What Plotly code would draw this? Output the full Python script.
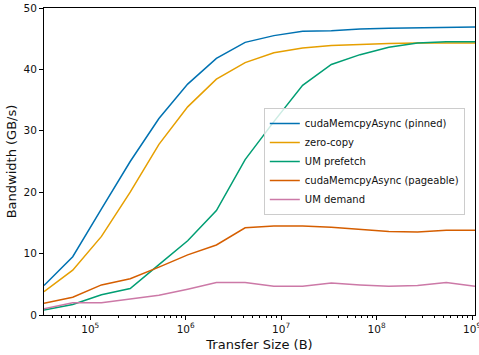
import numpy as np
import plotly.graph_objects as go

sizes = [2**k for k in range(15, 31)]
pinned = [4.8, 9.5, 17.3, 25.0, 32.0, 37.6, 41.8, 44.4, 45.5, 46.2, 46.3, 46.6, 46.7, 46.8, 46.9, 46.9]
zero_copy = [3.8, 7.3, 12.8, 20.0, 27.8, 33.9, 38.4, 41.1, 42.7, 43.5, 43.9, 44.1, 44.2, 44.3, 44.3, 44.3]
um_prefetch = [0.8, 1.7, 3.3, 4.3, 8.2, 12.1, 17.0, 25.3, 31.5, 37.4, 40.8, 42.4, 43.6, 44.3, 44.5, 44.5]
pageable = [1.9, 2.9, 4.9, 5.9, 7.8, 9.8, 11.4, 14.2, 14.5, 14.5, 14.3, 14.0, 13.6, 13.5, 13.8, 13.8]
um_demand = [1.0, 2.0, 2.0, 2.6, 3.2, 4.2, 5.3, 5.3, 4.7, 4.7, 5.2, 4.9, 4.7, 4.8, 5.3, 4.7]

series = [
    ("cudaMemcpyAsync (pinned)", pinned, "#0072B2"),
    ("zero-copy", zero_copy, "#E69F00"),
    ("UM prefetch", um_prefetch, "#009E73"),
    ("cudaMemcpyAsync (pageable)", pageable, "#D55E00"),
    ("UM demand", um_demand, "#CC79A7"),
]

major_vals = [1e5, 1e6, 1e7, 1e8, 1e9]
major_text = ["10<sup>5</sup>", "10<sup>6</sup>", "10<sup>7</sup>", "10<sup>8</sup>", "10<sup>9</sup>"]
minor_vals = [m * 10**e for e in range(4, 10) for m in range(2, 10) if 2**15 <= m * 10**e <= 2**30]

fig = go.Figure()
for name, vals, color in series:
    fig.add_trace(go.Scatter(x=sizes, y=vals, mode="lines", name=name,
                             line=dict(color=color, width=1.5)))

font = dict(family="DejaVu Sans", size=10.5, color="#111")
fig.update_layout(
    width=479, height=355,
    margin=dict(l=44, r=4, t=8, b=40, autoexpand=False),
    paper_bgcolor="white", plot_bgcolor="white",
    font=font,
    showlegend=True,
    legend=dict(x=0.51, y=0.50, xanchor="left", yanchor="middle",
                bgcolor="rgba(255,255,255,0.8)", bordercolor="#cccccc", borderwidth=1,
                font=dict(family="DejaVu Sans", size=10, color="#111"),
                tracegroupgap=0, itemwidth=30),
)
fig.update_xaxes(type="log", range=[np.log10(2**15), np.log10(2**30)],
                 tickvals=major_vals, ticktext=major_text, automargin=False,
                 ticklabeloverflow="allow",
                 ticks="outside", ticklen=4, tickwidth=1, tickcolor="black",
                 minor=dict(tickvals=minor_vals, ticks="outside", ticklen=2, tickcolor="black", showgrid=False),
                 showgrid=False, zeroline=False,
                 showline=True, linecolor="black", linewidth=1, mirror=True,
                 title=dict(text="Transfer Size (B)", standoff=6))
fig.update_yaxes(range=[0, 50], tickvals=[0, 10, 20, 30, 40, 50], automargin=False,
                 ticks="outside", ticklen=4, tickwidth=1, tickcolor="black",
                 showgrid=False, zeroline=False,
                 showline=True, linecolor="black", linewidth=1, mirror=True,
                 title=dict(text="Bandwidth (GB/s)", standoff=3))
fig.write_html("out.html", config={"displayModeBar": False},
               post_script="document.body.style.margin='0';document.body.style.padding='0';")
